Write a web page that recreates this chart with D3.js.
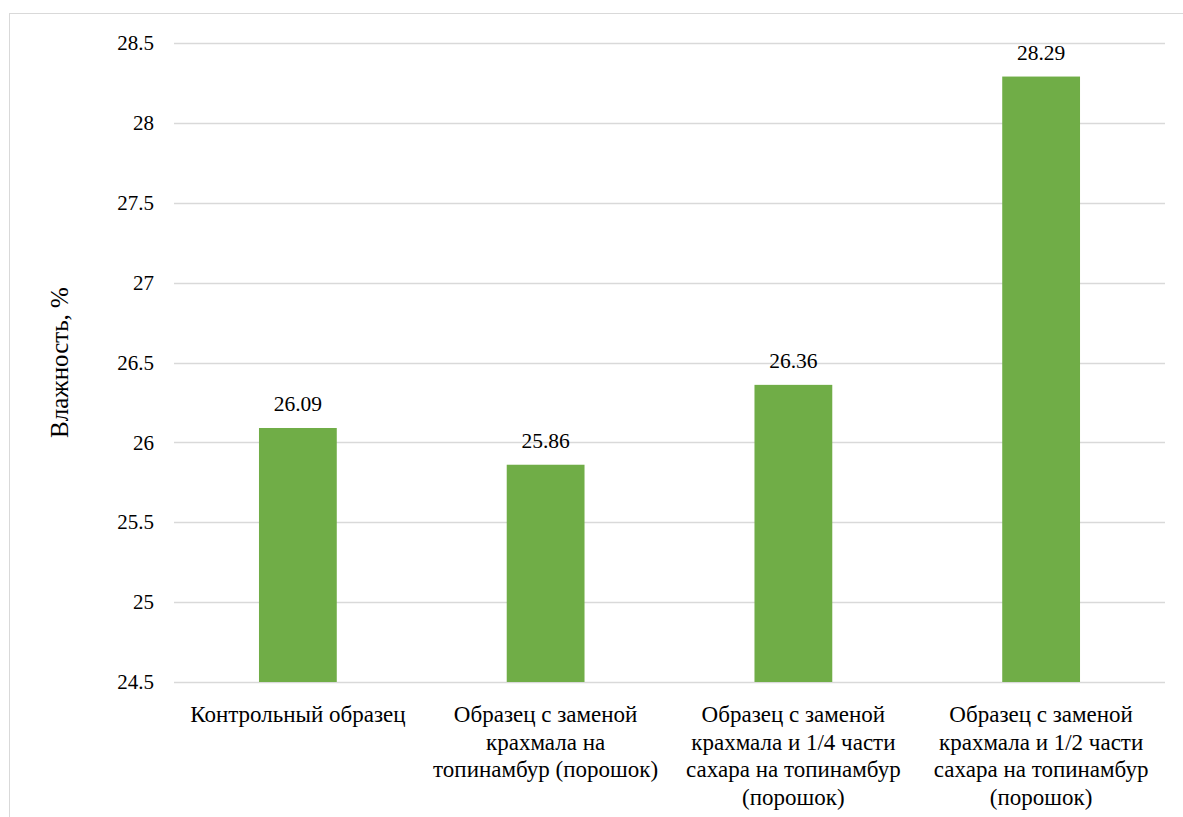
<!DOCTYPE html>
<html>
<head>
<meta charset="utf-8">
<script src="https://cdn.jsdelivr.net/npm/d3@7"></script>
<style>
  html, body { margin: 0; padding: 0; background: #fff; }
</style>
</head>
<body>
<svg id="chart" width="1183" height="817"></svg>
<script>
// Moisture content of the samples, %
const categories = [
  ["Контрольный образец"],
  ["Образец с заменой", "крахмала на", "топинамбур (порошок)"],
  ["Образец с заменой", "крахмала и 1/4 части", "сахара на топинамбур", "(порошок)"],
  ["Образец с заменой", "крахмала и 1/2 части", "сахара на топинамбур", "(порошок)"]
];
const values = [26.09, 25.86, 26.36, 28.29];
const yTicks = [24.5, 25, 25.5, 26, 26.5, 27, 27.5, 28, 28.5];
const yTitle = "Влажность, %";

const FONT = "'Liberation Serif', 'Times New Roman', 'Liberation Sans', serif";

const svg = d3.select("#chart")
  .style("font-family", FONT);

// outer frame of the chart area
svg.append("rect")
  .attr("x", 9.5).attr("y", 13.5)
  .attr("width", 1190).attr("height", 820)
  .attr("fill", "none").attr("stroke", "#d9d9d9").attr("stroke-width", 1);

const plot = { left: 174, right: 1165, top: 43, bottom: 682 };

const x = d3.scaleBand()
  .domain(d3.range(categories.length))
  .range([plot.left, plot.right])
  .paddingInner(0.686).paddingOuter(0.343);

const y = d3.scaleLinear()
  .domain([24.5, 28.5])
  .range([plot.bottom, plot.top]);

// horizontal gridlines
svg.append("g")
  .selectAll("line")
  .data(yTicks)
  .join("line")
  .attr("x1", plot.left).attr("x2", plot.right)
  .attr("y1", d => Math.round(y(d)) + 0.5).attr("y2", d => Math.round(y(d)) + 0.5)
  .attr("stroke", "#d9d9d9").attr("stroke-width", 1.3);

// y axis labels
const yAxis = d3.axisLeft(y).tickValues(yTicks).tickSize(0).tickPadding(0)
  .tickFormat(d => String(d));
svg.append("g")
  .attr("transform", `translate(${plot.left - 20},0)`)
  .call(yAxis)
  .attr("font-family", null)
  .attr("font-size", null)
  .call(g => g.select(".domain").remove())
  .call(g => g.selectAll("text")
    .style("font-family", FONT)
    .style("font-size", "21px").attr("fill", "#000"));

// bars
svg.append("g")
  .selectAll("rect")
  .data(values)
  .join("rect")
  .attr("x", (d, i) => x(i))
  .attr("width", x.bandwidth())
  .attr("y", d => y(d))
  .attr("height", d => y(24.5) - y(d))
  .attr("fill", "#70ad47");

// value labels
svg.append("g")
  .selectAll("text")
  .data(values)
  .join("text")
  .attr("x", (d, i) => x(i) + x.bandwidth() / 2)
  .attr("y", d => y(d) - 17)
  .attr("text-anchor", "middle")
  .style("font-family", FONT)
  .style("font-size", "21.5px")
  .text(d => d.toFixed(2));

// category labels
const cat = svg.append("g")
  .selectAll("text")
  .data(categories)
  .join("text")
  .attr("x", (d, i) => x(i) + x.bandwidth() / 2)
  .attr("y", 722)
  .attr("text-anchor", "middle")
  .style("font-family", FONT)
  .style("font-size", "23px");
cat.selectAll("tspan")
  .data(d => d)
  .join("tspan")
  .attr("x", function () { return d3.select(this.parentNode).attr("x"); })
  .attr("dy", (d, i) => i === 0 ? 0 : 27.5)
  .text(d => d);

// y axis title
svg.append("text")
  .attr("transform", `translate(68,${(plot.top + plot.bottom) / 2}) rotate(-90)`)
  .attr("text-anchor", "middle")
  .style("font-family", FONT)
  .style("font-size", "25px")
  .text(yTitle);
</script>
</body>
</html>
